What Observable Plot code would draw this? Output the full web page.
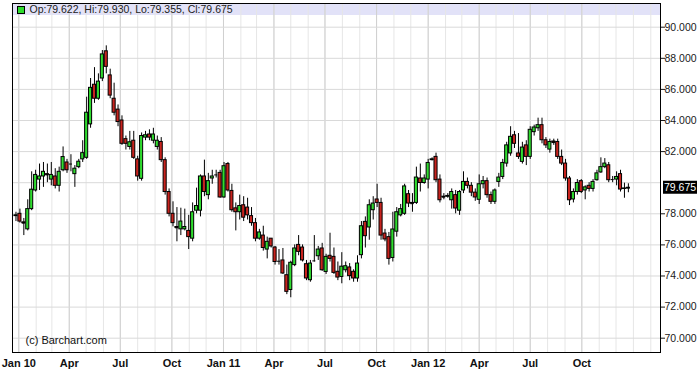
<!DOCTYPE html>
<html><head><meta charset="utf-8">
<script src="https://cdn.jsdelivr.net/npm/d3@7"></script>
<script src="https://cdn.jsdelivr.net/npm/@observablehq/plot@0.6"></script>
<style>
body{margin:0;background:#fff}
#chart svg{display:block}
#chart svg g[aria-label^="y-axis"] text{font-size:10.5px}
</style>
</head><body><div id="chart"></div>
<script>
// ---- data (weekly candles, first week starting 2009-12-27) ----
const startDate = "2009-12-27";
const open = [77.85,78.0,77.45,77.0,78.3,79.5,80.2,80.4,80.55,80.2,
80.4,79.8,80.8,81.3,81.2,80.55,81.0,81.5,81.6,83.75,
86.3,85.4,86.7,88.45,86.9,85.4,84.7,84.0,82.8,82.3,
82.7,81.5,80.25,82.9,83.1,82.7,82.3,82.62,81.45,79.4,
78.0,77.15,77.0,77.0,76.9,76.4,78.2,78.2,80.4,79.2,
80.27,80.5,80.63,79.05,81.2,79.47,78.35,78.1,78.55,78.4,
77.85,77.4,76.4,76.6,75.7,76.4,75.83,74.95,75.0,74.05,
73.1,74.7,76.0,75.83,74.76,73.73,74.97,75.27,75.77,74.26,
75.3,75.23,74.27,73.94,74.37,74.55,74.27,73.84,75.34,77.48,
77.12,78.23,78.92,78.7,76.73,76.5,75.16,76.85,77.9,78.0,
79.26,78.7,78.7,80.27,79.98,80.2,81.45,81.66,80.2,79.1,
79.1,78.87,79.2,78.2,79.5,80.05,79.8,79.36,78.9,79.9,
80.1,79.2,78.77,80.05,80.37,81.23,81.88,83.05,81.88,81.34,
82.4,81.66,83.25,83.5,83.7,82.73,82.13,82.65,82.62,81.66,
81.23,80.27,78.92,79.4,80.1,79.5,79.8,79.6,80.16,80.66,
81.0,81.12,80.2,80.2,80.55,79.6,79.622];
const high = [78.1,78.3,77.7,78.9,80.7,80.8,81.2,81.3,81.2,81.3,
80.9,81.0,82.3,81.5,81.8,81.1,81.5,82.7,85.5,86.7,
87.4,87.0,88.5,88.8,87.3,86.4,85.0,84.3,83.0,83.3,
83.3,81.7,83.2,83.3,83.4,83.5,83.0,82.9,81.6,79.6,
78.77,78.4,78.36,78.3,77.9,78.7,79.65,80.5,81.45,80.6,
80.8,80.8,80.8,81.3,81.3,79.9,78.7,79.2,79.1,79.0,
78.4,77.7,77.0,77.2,76.5,76.4,75.9,75.7,75.77,74.7,
74.95,76.0,76.6,76.0,75.0,75.0,76.6,75.9,76.1,75.4,
76.75,75.8,74.9,75.5,74.9,74.8,74.4,75.3,77.5,77.8,
78.9,79.1,79.9,79.0,77.0,76.8,78.1,78.4,78.6,79.9,
79.5,79.3,81.0,81.2,80.5,81.5,81.6,81.9,80.5,79.3,
79.3,79.6,79.5,79.5,80.7,80.3,80.0,79.6,80.5,80.4,
80.3,79.4,79.6,80.6,81.5,82.6,83.6,83.3,83.16,82.6,
82.7,83.6,83.7,84.15,84.15,82.9,82.8,82.8,82.8,82.1,
81.5,80.4,79.6,80.2,80.2,79.8,80.0,80.2,80.8,81.6,
81.55,81.3,80.4,80.7,80.8,79.97,79.93];
const low = [77.5,77.4,76.6,76.9,78.2,79.4,79.5,79.7,80.0,79.8,
79.6,79.4,80.7,80.6,80.7,79.7,80.9,81.3,81.5,83.5,
85.1,85.3,86.5,87.0,85.4,84.3,83.6,82.4,82.1,82.1,
81.5,80.1,80.1,82.7,82.7,82.5,82.1,81.3,79.2,77.8,
77.16,76.2,76.6,76.9,75.7,76.2,78.0,77.8,79.1,78.9,
79.9,80.3,79.0,79.0,79.4,78.1,76.9,77.6,77.5,77.6,
77.2,76.2,76.3,75.6,75.1,75.8,74.7,74.7,74.1,72.8,
72.6,74.6,75.3,74.9,73.7,73.6,74.9,75.0,74.3,74.1,
74.9,74.1,73.7,73.5,74.2,73.7,73.6,73.6,75.1,75.8,
76.3,77.6,78.4,76.3,76.2,74.7,74.9,76.5,77.8,77.9,
78.4,78.1,78.6,79.4,79.9,79.6,81.4,80.0,78.7,78.9,
79.0,78.3,78.0,77.9,79.3,79.6,79.1,78.8,78.6,79.6,
79.0,78.6,78.6,79.7,80.2,81.0,81.7,82.2,81.5,81.2,
81.1,81.5,83.0,83.3,82.5,82.2,81.9,82.4,81.5,81.1,
80.1,78.53,78.7,79.2,79.3,78.9,79.4,79.4,80.1,80.6,
80.9,80.0,80.0,79.8,79.4,79.0,79.355];
const close = [77.9,77.5,77.4,78.3,79.55,80.5,80.4,80.7,80.5,80.5,
79.8,80.7,81.65,80.8,81.2,80.9,81.35,81.9,84.5,86.1,
85.4,86.5,88.25,87.45,85.6,84.5,83.9,82.5,82.5,82.6,
81.6,80.4,83.0,83.05,82.9,83.1,82.7,81.45,79.4,78.0,
77.4,77.1,77.5,77.15,76.5,78.1,78.5,80.4,79.4,80.1,
80.4,80.5,79.05,81.06,79.5,78.23,78.1,78.5,77.75,77.9,
77.4,76.4,76.8,75.8,76.2,75.9,74.9,74.95,74.16,72.98,
74.85,75.77,75.55,75.0,73.84,74.8,74.97,75.7,74.37,75.23,
75.1,74.2,73.9,74.6,74.63,73.99,73.84,74.8,77.2,76.56,
78.55,78.66,78.7,76.6,76.35,75.1,76.99,78.1,78.3,79.76,
78.66,78.65,80.33,79.98,80.27,81.27,81.5,80.16,78.87,79.07,
79.15,79.4,78.34,79.4,80.05,79.8,79.36,79.05,79.9,80.1,
79.2,78.77,79.5,80.33,81.27,82.4,82.95,82.5,81.66,82.26,
81.66,83.4,83.55,83.7,82.73,82.4,82.62,82.58,81.66,81.23,
80.27,78.87,79.4,79.98,79.4,79.7,79.6,80.05,80.6,81.0,
81.23,80.16,80.2,80.37,79.56,79.63,79.675];

const yGrid = [70,72,74,76,78,80,82,84,86,88,90];
const yTicks = [70,72,74,76,78,82,84,86,88,90]; // 80.000 is hidden under the last-price tag
const xTickDates = ["2010-01-01","2010-04-01","2010-07-01","2010-10-01","2011-01-01","2011-04-01","2011-07-01","2011-10-01","2012-01-01","2012-04-01","2012-07-01","2012-10-01"];
const xTickLabels = ["Jan 10","Apr","Jul","Oct","Jan 11","Apr","Jul","Oct","Jan 12","Apr","Jul","Oct"];
const lastBar = {open: 79.622, high: 79.930, low: 79.355, close: 79.675};
const copyright = "(c) Barchart.com";

// ---- layout ----
const W = 697, H = 372, ML = 12, MR = 37, MT = 3, MB = 20;
const xDomain = [new Date("2009-12-20T19:00Z"), new Date("2013-02-18T07:00Z")];
const yDomain = [69.08, 91.524];
const GREEN = "#2fdc2f", RED = "#c8231e";
const pxPerVal = (H - MT - MB) / (yDomain[1] - yDomain[0]);
const yPix = v => MT + (yDomain[1] - v) * pxPerVal;

const candles = open.map((o, i) => ({
  date: d3.utcDay.offset(new Date(startDate), 7 * i),
  open: o, high: high[i], low: low[i], close: close[i]
}));
const halfDays = 2.75;
const bx1 = d => d3.utcHour.offset(d.date, -halfDays * 24);
const bx2 = d => d3.utcHour.offset(d.date, halfDays * 24);

const monthGrid = d3.utcMonth.range(new Date("2010-01-01"), new Date("2013-02-02"));
const quarterGrid = xTickDates.map(s => new Date(s));
const bandBottom = yDomain[1] - 12 / pxPerVal;

const font = "'Liberation Sans', Arial, Helvetica, sans-serif";
const chart = Plot.plot({
  width: W, height: H,
  marginLeft: ML, marginRight: MR, marginTop: MT, marginBottom: MB,
  style: {fontFamily: font, fontSize: "11px", color: "#1a1a1a", background: "#fff"},
  x: {type: "utc", domain: xDomain, axis: null},
  y: {domain: yDomain, axis: "right", ticks: yTicks, tickFormat: d => d.toFixed(3),
      tickSize: 4, tickPadding: 0, label: null},
  marks: [
    Plot.rect([0], {x1: () => xDomain[0], x2: () => xDomain[1], y1: () => yDomain[1], y2: () => bandBottom, fill: "#e2e2f8"}),
    Plot.ruleX(monthGrid, {x: d => d, stroke: "#e6e6e6"}),
    Plot.ruleX(quarterGrid, {x: d => d, stroke: "#cfcfcf"}),
    Plot.ruleY(yGrid, {y: d => d, stroke: "#d9d9d9"}),
    Plot.ruleX(candles, {x: "date", y1: "low", y2: "high", stroke: "#000"}),
    Plot.rect(candles, {filter: d => d.close >= d.open, x1: bx1, x2: bx2, y1: "open", y2: "close", fill: GREEN, stroke: "#000"}),
    Plot.rect(candles, {filter: d => d.close < d.open, x1: bx1, x2: bx2, y1: "open", y2: "close", fill: RED, stroke: "#000"}),
    Plot.ruleY(candles, {filter: d => Math.abs(d.close - d.open) < 0.08, x1: bx1, x2: bx2, y: "close", stroke: "#000"}),
    Plot.text(xTickDates, {x: d => new Date(d), text: (d, i) => xTickLabels[i], frameAnchor: "bottom", dy: 11, lineAnchor: "middle", fontWeight: "bold", fontSize: 11, fill: "#111"}),
    Plot.text([copyright], {frameAnchor: "bottom-left", dx: 13, dy: -9, lineAnchor: "bottom", textAnchor: "start", fontSize: 11, fill: "#111"}),
    Plot.text([`Op:${lastBar.open.toFixed(3)}, Hi:${lastBar.high.toFixed(3)}, Lo:${lastBar.low.toFixed(3)}, Cl:${lastBar.close.toFixed(3)}`],
      {frameAnchor: "top-left", dx: 17, dy: 6.5, lineAnchor: "middle", textAnchor: "start", fontSize: 10.5, fill: "#222"}),
    Plot.frame({stroke: "#000"})
  ]
});
document.getElementById("chart").appendChild(chart);

// header marker square and last-price tag
const svg = d3.select(chart);
svg.append("rect").attr("x", ML + 5.5).attr("y", MT + 3.5).attr("width", 7).attr("height", 7)
  .attr("fill", GREEN).attr("stroke", "#000");
const yc = yPix(lastBar.close);
const tag = svg.append("g");
tag.append("rect").attr("x", W - MR + 3).attr("y", yc - 6.5).attr("width", MR - 3).attr("height", 13).attr("fill", "#000");
tag.append("text").attr("x", W - MR + 4).attr("y", yc).attr("dy", "0.35em").attr("text-anchor", "start")
  .attr("fill", "#fff").attr("font-size", 10.5).attr("font-family", font).text(lastBar.close.toFixed(3));
</script>
</body></html>
